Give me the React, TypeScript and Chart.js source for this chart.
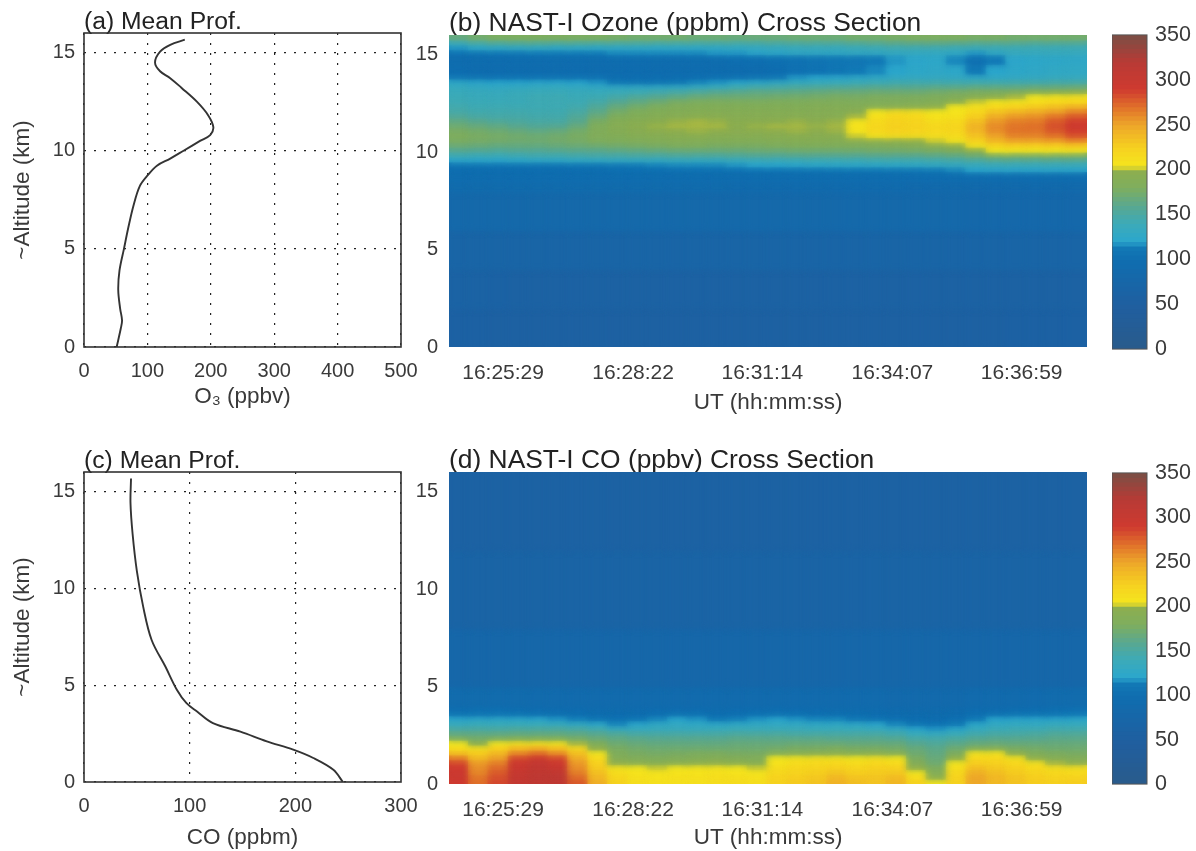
import React, { useEffect, useRef } from "react";
import { Chart, registerables } from "chart.js";

Chart.register(...registerables);

const FONT = "'Liberation Sans', Arial, sans-serif";
const INK = "#3a3a3a";

// (a) mean ozone profile
const o3ProfileValues = [51.5, 58, 60, 57, 54, 56, 63, 70, 78, 88, 101, 115, 136, 157, 183, 199, 204, 196, 178, 154, 136, 120, 112, 120, 136, 159];
const o3ProfileAlts = [0, 0.94, 1.36, 1.96, 2.9, 3.9, 5, 6.1, 7.2, 8.2, 8.77, 9.24, 9.6, 10, 10.5, 10.8, 11.2, 11.8, 12.5, 13.2, 13.7, 14.05, 14.5, 15.05, 15.4, 15.66];

// (c) mean CO profile
const coProfileValues = [245, 236, 217, 198, 173, 148, 122, 107, 97, 88, 77, 64, 56, 50, 46, 44, 44.5];
const coProfileAlts = [0, 0.63, 1.24, 1.67, 2.1, 2.6, 3.04, 3.64, 4.07, 4.75, 5.96, 7.33, 9.05, 10.9, 12.8, 14.4, 15.66];

// Cross-section time axis: seconds after 16:00:00
const columnTimes = [1470, 1497, 1523, 1550, 1576, 1603, 1629, 1656, 1682, 1709, 1735, 1762, 1788, 1815, 1841, 1868, 1894, 1921, 1947, 1974, 2000, 2027, 2053, 2080, 2106, 2133, 2159, 2186, 2212, 2239, 2265, 2292];
const timeTicks = [1529, 1702, 1874, 2047, 2219];
const timeTickLabels = ["16:25:29", "16:28:22", "16:31:14", "16:34:07", "16:36:59"];

// (b) Ozone cross-section. Row edges in km, rows bottom to top.
const ozoneEdges = [0, 2, 4, 6, 8, 8.5, 9, 9.25, 9.5, 9.75, 10, 10.25, 10.5, 10.75, 11, 11.25, 11.5, 11.75, 12, 12.25, 12.5, 12.75, 13, 13.25, 13.5, 13.75, 14, 14.5, 15, 15.25, 15.5, 15.75, 16];
const ozoneRows = [
  [58, 58, 57, 57, 56, 56, 56, 56, 55, 55, 55, 55, 55, 55, 55, 56, 56, 56, 56, 56, 56, 56, 56, 57, 57, 57, 57, 57, 58, 58, 58, 58],
  [62, 62, 61, 60, 60, 60, 60, 60, 60, 60, 60, 60, 60, 60, 60, 60, 60, 60, 60, 60, 60, 60, 60, 60, 60, 60, 60, 60, 60, 60, 60, 60],
  [70, 70, 70, 70, 70, 70, 70, 70, 70, 70, 70, 70, 70, 70, 70, 70, 70, 70, 70, 70, 70, 70, 70, 70, 70, 70, 70, 70, 70, 70, 70, 70],
  [82, 82, 82, 82, 82, 82, 82, 82, 82, 82, 82, 82, 82, 82, 82, 82, 82, 82, 82, 82, 82, 82, 82, 82, 82, 82, 80, 80, 80, 80, 80, 80],
  [92, 92, 92, 92, 92, 92, 92, 92, 92, 92, 92, 92, 92, 92, 90, 90, 90, 90, 90, 90, 90, 90, 90, 88, 88, 88, 88, 88, 88, 88, 88, 88],
  [98, 98, 98, 98, 98, 98, 98, 98, 98, 98, 98, 98, 98, 98, 98, 98, 98, 98, 98, 98, 98, 98, 98, 96, 96, 96, 98, 98, 98, 98, 98, 98],
  [100, 100, 100, 100, 100, 100, 100, 100, 102, 102, 102, 104, 104, 104, 104, 106, 106, 108, 108, 110, 110, 110, 112, 112, 114, 116, 120, 122, 122, 122, 122, 122],
  [108, 108, 108, 108, 108, 108, 110, 110, 112, 114, 115, 116, 116, 116, 118, 120, 120, 122, 124, 125, 125, 126, 126, 128, 130, 132, 134, 136, 136, 136, 136, 136],
  [122, 122, 122, 124, 126, 126, 128, 128, 130, 130, 130, 132, 132, 132, 134, 136, 136, 138, 140, 140, 140, 142, 142, 142, 144, 146, 150, 155, 155, 155, 155, 155],
  [142, 140, 140, 142, 144, 144, 146, 148, 148, 150, 150, 152, 152, 152, 154, 156, 156, 158, 158, 158, 158, 160, 160, 160, 162, 165, 172, 178, 178, 178, 178, 178],
  [158, 156, 154, 156, 156, 158, 160, 160, 162, 164, 166, 168, 168, 168, 168, 170, 170, 172, 172, 172, 172, 174, 174, 175, 178, 182, 194, 204, 206, 206, 206, 208],
  [170, 168, 166, 166, 166, 168, 170, 172, 174, 176, 178, 180, 180, 178, 178, 178, 180, 182, 182, 182, 182, 184, 186, 188, 192, 198, 208, 218, 222, 222, 224, 228],
  [178, 176, 174, 172, 172, 174, 176, 180, 182, 184, 186, 188, 188, 186, 186, 186, 188, 190, 190, 190, 192, 194, 196, 198, 202, 208, 222, 240, 250, 250, 252, 260],
  [180, 178, 176, 174, 172, 174, 178, 184, 186, 190, 192, 194, 194, 192, 192, 192, 194, 194, 194, 194, 202, 208, 212, 212, 212, 214, 232, 250, 262, 262, 268, 280],
  [178, 175, 172, 168, 165, 168, 175, 182, 190, 194, 197, 198, 199, 198, 196, 197, 198, 199, 198, 199, 206, 216, 222, 220, 216, 218, 240, 258, 268, 268, 278, 288],
  [172, 168, 165, 160, 156, 158, 168, 182, 192, 196, 199, 200, 200, 200, 198, 199, 200, 200, 199, 200, 208, 218, 224, 222, 218, 220, 242, 260, 268, 270, 282, 292],
  [165, 160, 155, 152, 150, 150, 160, 178, 190, 194, 197, 199, 200, 199, 197, 197, 198, 199, 198, 199, 205, 216, 222, 220, 214, 216, 236, 255, 264, 266, 278, 288],
  [155, 150, 148, 148, 146, 146, 155, 170, 182, 186, 190, 192, 194, 194, 192, 192, 192, 192, 192, 192, 200, 210, 218, 216, 208, 210, 226, 245, 255, 258, 268, 278],
  [148, 145, 145, 145, 144, 144, 150, 162, 175, 182, 186, 188, 190, 190, 190, 190, 190, 190, 190, 190, 194, 205, 214, 212, 204, 206, 218, 232, 240, 245, 252, 262],
  [145, 142, 142, 142, 142, 142, 145, 155, 168, 175, 180, 184, 186, 186, 186, 186, 186, 186, 188, 188, 188, 186, 188, 190, 196, 204, 210, 216, 222, 228, 235, 242],
  [142, 140, 140, 140, 142, 142, 142, 148, 158, 165, 172, 178, 180, 180, 180, 180, 182, 182, 184, 184, 184, 184, 184, 185, 188, 195, 202, 206, 208, 212, 216, 218],
  [140, 138, 138, 140, 142, 142, 140, 142, 148, 155, 160, 165, 170, 172, 172, 172, 174, 175, 176, 178, 178, 180, 180, 180, 182, 185, 190, 195, 200, 205, 208, 210],
  [138, 136, 136, 138, 140, 140, 138, 138, 140, 142, 146, 150, 155, 160, 162, 165, 165, 166, 168, 170, 170, 172, 172, 172, 175, 178, 180, 182, 185, 190, 195, 198],
  [134, 132, 130, 132, 134, 134, 132, 130, 130, 130, 130, 132, 136, 140, 144, 148, 150, 152, 154, 156, 158, 160, 160, 160, 162, 162, 165, 165, 165, 168, 168, 170],
  [126, 122, 120, 120, 122, 122, 120, 118, 114, 112, 112, 114, 116, 118, 122, 126, 130, 134, 136, 138, 140, 142, 144, 145, 145, 145, 145, 145, 146, 146, 148, 148],
  [112, 108, 106, 106, 106, 106, 105, 104, 100, 100, 100, 100, 100, 102, 104, 108, 112, 118, 120, 122, 126, 128, 130, 132, 132, 130, 128, 128, 130, 132, 134, 134],
  [100, 98, 98, 98, 98, 98, 96, 96, 96, 96, 96, 96, 96, 96, 98, 98, 100, 104, 106, 110, 114, 116, 120, 124, 126, 124, 114, 120, 124, 126, 128, 128],
  [98, 98, 98, 98, 98, 98, 98, 98, 98, 98, 98, 98, 98, 98, 100, 100, 102, 105, 108, 110, 112, 114, 118, 122, 124, 116, 104, 114, 122, 124, 125, 126],
  [105, 108, 110, 112, 114, 114, 114, 114, 116, 116, 116, 116, 116, 118, 118, 122, 125, 128, 128, 128, 130, 130, 132, 132, 130, 128, 118, 128, 135, 135, 135, 135],
  [118, 124, 126, 128, 128, 126, 126, 125, 126, 126, 125, 125, 125, 126, 128, 130, 132, 135, 135, 135, 138, 140, 142, 142, 142, 140, 140, 140, 140, 140, 140, 140],
  [135, 145, 150, 152, 152, 150, 150, 148, 148, 148, 146, 146, 146, 146, 145, 146, 148, 150, 150, 150, 152, 155, 158, 160, 160, 158, 155, 155, 155, 152, 152, 152],
  [168, 175, 180, 182, 182, 182, 180, 180, 178, 175, 175, 175, 172, 172, 170, 170, 170, 172, 172, 172, 175, 175, 178, 180, 180, 180, 178, 178, 175, 175, 175, 175],
];

// (d) CO cross-section
const coEdges = [0, 0.25, 0.5, 0.75, 1, 1.25, 1.5, 1.75, 2, 2.25, 2.5, 2.75, 3, 3.25, 3.5, 3.75, 4, 5, 8, 12, 16];
const coRows = [
  [290, 270, 285, 305, 310, 310, 278, 245, 222, 212, 210, 210, 210, 212, 214, 212, 222, 228, 232, 242, 236, 232, 240, 222, 206, 222, 248, 238, 232, 226, 224, 226],
  [295, 268, 282, 305, 312, 312, 272, 240, 218, 210, 208, 210, 210, 212, 212, 210, 222, 226, 230, 240, 232, 232, 238, 215, 195, 222, 250, 240, 232, 226, 222, 222],
  [295, 262, 278, 302, 310, 308, 265, 235, 214, 208, 206, 208, 208, 210, 208, 206, 218, 222, 226, 232, 226, 228, 230, 205, 188, 218, 244, 236, 228, 222, 218, 216],
  [290, 258, 272, 298, 308, 300, 258, 228, 208, 204, 202, 204, 206, 206, 204, 202, 214, 218, 220, 224, 220, 224, 224, 198, 180, 212, 236, 230, 224, 216, 212, 212],
  [285, 255, 265, 295, 305, 295, 255, 225, 198, 192, 190, 192, 196, 198, 194, 190, 208, 214, 216, 218, 214, 218, 215, 188, 172, 205, 226, 224, 218, 210, 200, 198],
  [265, 238, 252, 285, 295, 285, 245, 215, 188, 184, 182, 184, 186, 188, 186, 184, 204, 208, 210, 208, 206, 210, 205, 178, 168, 198, 218, 218, 210, 196, 188, 185],
  [235, 228, 240, 262, 272, 260, 235, 205, 182, 178, 176, 178, 180, 180, 178, 178, 185, 188, 192, 192, 190, 192, 188, 172, 165, 180, 208, 208, 198, 185, 180, 178],
  [214, 212, 225, 238, 245, 235, 218, 196, 178, 174, 172, 172, 172, 172, 172, 172, 175, 178, 178, 180, 178, 178, 175, 168, 162, 172, 182, 184, 178, 175, 172, 172],
  [204, 196, 206, 212, 212, 208, 200, 186, 172, 168, 166, 166, 166, 166, 168, 168, 168, 170, 170, 170, 168, 168, 168, 160, 155, 162, 168, 170, 168, 168, 168, 168],
  [178, 175, 178, 182, 182, 180, 176, 170, 165, 162, 160, 160, 160, 160, 162, 162, 162, 162, 162, 160, 160, 160, 158, 150, 148, 152, 158, 160, 160, 160, 162, 162],
  [165, 165, 165, 166, 166, 166, 164, 160, 155, 150, 150, 150, 150, 150, 152, 152, 152, 150, 150, 150, 150, 150, 146, 138, 135, 140, 146, 150, 150, 152, 155, 155],
  [150, 150, 150, 152, 152, 152, 150, 145, 135, 135, 136, 136, 136, 138, 140, 140, 140, 140, 138, 138, 138, 136, 132, 122, 118, 124, 134, 140, 142, 142, 145, 145],
  [135, 138, 138, 138, 138, 135, 130, 125, 116, 122, 128, 130, 128, 126, 128, 130, 130, 130, 128, 128, 126, 122, 116, 110, 106, 112, 124, 130, 132, 132, 135, 135],
  [122, 125, 125, 124, 122, 118, 115, 110, 106, 110, 116, 120, 118, 114, 115, 118, 120, 118, 116, 116, 112, 108, 104, 100, 98, 104, 114, 120, 122, 122, 122, 124],
  [110, 112, 112, 110, 106, 104, 102, 100, 100, 100, 104, 108, 106, 102, 104, 106, 108, 106, 104, 102, 102, 100, 98, 96, 95, 98, 104, 108, 110, 110, 112, 114],
  [100, 102, 102, 100, 98, 96, 96, 95, 95, 95, 96, 98, 96, 95, 96, 98, 100, 98, 96, 95, 95, 95, 94, 92, 92, 94, 96, 98, 100, 100, 102, 104],
  [92, 92, 92, 92, 90, 90, 90, 90, 90, 90, 90, 90, 90, 90, 90, 90, 90, 90, 90, 90, 90, 90, 88, 88, 88, 88, 90, 90, 90, 90, 92, 92],
  [78, 78, 78, 78, 78, 78, 78, 78, 78, 78, 78, 78, 78, 78, 78, 78, 78, 78, 78, 78, 78, 78, 78, 78, 78, 78, 78, 78, 78, 78, 78, 78],
  [65, 65, 65, 65, 65, 65, 65, 65, 65, 65, 65, 65, 65, 65, 65, 65, 65, 65, 65, 65, 65, 65, 65, 65, 65, 65, 65, 65, 65, 65, 65, 65],
  [60, 60, 60, 60, 60, 60, 60, 60, 60, 60, 60, 60, 60, 60, 60, 60, 60, 60, 60, 60, 60, 60, 60, 60, 60, 60, 60, 60, 60, 60, 60, 60],
];

// Colour-bar levels and colour stops
const barLevels = [0, 5, 10, 15, 20, 25, 30, 35, 40, 45, 50, 55, 60, 65, 70, 75, 80, 85, 90, 95, 100, 105, 110, 115, 120, 125, 130, 135, 140, 145, 150, 155, 160, 165, 170, 175, 180, 185, 190, 195, 200, 205, 210, 215, 220, 225, 230, 235, 240, 245, 250, 255, 260, 265, 270, 275, 280, 285, 290, 295, 300, 305, 310, 315, 320, 325, 330, 335, 340, 345];
const stopValues = [0, 50, 100, 114, 120, 140, 160, 180, 198, 201, 204, 225, 250, 270, 290, 320, 350];
const stopColors = ["#2a5b8b", "#1f5fa0", "#0f6eb0", "#1279b6", "#2ba6cc", "#3caab8", "#5aa88f", "#7fae5e", "#8cae50", "#b4bd3e", "#f5e61e", "#f6d020", "#eda62a", "#e0702a", "#cf3a30", "#b83a35", "#7a4f45"];

function hexToRgb(h: string) {
  return [1, 3, 5].map((i) => parseInt(h.slice(i, i + 2), 16));
}
function colorFor(v: number) {
  let i = 0;
  while (i < stopValues.length - 2 && v > stopValues[i + 1]) i++;
  const t = Math.max(0, Math.min(1, (v - stopValues[i]) / (stopValues[i + 1] - stopValues[i])));
  const a = hexToRgb(stopColors[i]);
  const b = hexToRgb(stopColors[i + 1]);
  return `rgb(${a.map((c, k) => Math.round(c + (b[k] - c) * t)).join(",")})`;
}

const framePlugin = {
  id: "frame",
  afterDraw(chart: any, _a: any, opts: any) {
    if (!opts || !opts.color) return;
    const { ctx, chartArea: c } = chart;
    ctx.save();
    ctx.strokeStyle = opts.color;
    ctx.lineWidth = opts.width || 1.5;
    ctx.strokeRect(c.left, c.top, c.right - c.left, c.bottom - c.top);
    ctx.restore();
  },
};

// Softens the top copy of the cross-section cells, like the scanned original.
const softenPlugin = {
  id: "soften",
  beforeDatasetDraw(chart: any, args: any) {
    if (args.index === 0) chart.ctx.filter = "blur(3px)";
  },
  afterDatasetDraw(chart: any) {
    chart.ctx.filter = "none";
  },
};

type Box = { left: number; top: number; width: number; height: number };
const titleOpts = (text: string, h: number, size: number) => ({
  display: true,
  text,
  align: "start" as const,
  fullSize: false,
  color: "#222",
  font: { family: FONT, size, weight: "normal" as const, lineHeight: 1 },
  padding: { top: h - size + 2, bottom: -2 },
});
const tickFont = { family: FONT, size: 20 };
const timeFont = { family: FONT, size: 21 };
const labelFont = { family: FONT, size: 22.5 };
const altitudeAxis = (w: number, padding: number, showLabel: boolean, grid: boolean) => ({
  type: "linear" as const,
  min: 0,
  max: 16,
  afterBuildTicks: (s: any) => {
    s.ticks = [0, 5, 10, 15].map((value) => ({ value }));
  },
  afterFit: (s: any) => {
    s.width = w;
  },
  ticks: { color: INK, font: tickFont, padding },
  title: showLabel
    ? { display: true, text: "~Altitude (km)", color: INK, font: labelFont, padding: { top: 9, bottom: 0 } }
    : { display: false },
  border: { display: false, dash: [2, 8] },
  grid: grid ? { display: true, drawTicks: false, color: "#222", lineWidth: 1.2 } : { display: false, drawTicks: false },
});

function makeProfile(canvas: HTMLCanvasElement, cfg: any) {
  return new Chart(canvas, {
    type: "line",
    data: {
      datasets: [
        {
          data: cfg.values.map((x: number, i: number) => ({ x, y: cfg.alts[i] })),
          borderColor: "#333",
          borderWidth: 1.9,
          pointRadius: 0,
          tension: 0.35,
          fill: false,
        },
      ],
    },
    options: {
      responsive: false,
      animation: false,
      layout: { padding: { right: cfg.right } },
      plugins: { legend: { display: false }, tooltip: { enabled: false }, title: titleOpts(cfg.title, cfg.titleH, 24.7), frame: { color: "#333", width: 1.6 } },
      scales: {
        x: {
          type: "linear",
          min: 0,
          max: cfg.max,
          afterBuildTicks: (s: any) => {
            s.ticks = cfg.ticks.map((value: number) => ({ value }));
          },
          afterFit: (s: any) => {
            s.height = cfg.bottom;
          },
          ticks: { color: INK, font: tickFont, padding: 12, maxRotation: 0, autoSkip: false },
          title: { display: true, text: cfg.label, color: INK, font: labelFont, padding: { top: 0, bottom: cfg.labelPad } },
          border: { display: false, dash: [2, 8] },
          grid: { drawTicks: false, color: "#222", lineWidth: 1.2 },
        },
        y: altitudeAxis(84, 9, true, true),
      },
    } as any,
    plugins: [framePlugin],
  } as any);
}

function makeSection(canvas: HTMLCanvasElement, cfg: any) {
  const cells: any[] = [];
  cfg.rows.forEach((row: number[], r: number) => {
    row.forEach((v: number, c: number) => {
      cells.push({ x: columnTimes[c], y: [cfg.edges[r], cfg.edges[r + 1]], v });
    });
  });
  const cellStyle = {
    data: cells,
    backgroundColor: (ctx: any) => (ctx.raw ? colorFor(ctx.raw.v) : "#000"),
    borderWidth: 0,
    barThickness: 21,
    inflateAmount: 0.6,
    grouped: false,
  };
  return new Chart(canvas, {
    type: "bar",
    data: { datasets: [{ ...cellStyle }, { ...cellStyle }] },
    options: {
      responsive: false,
      animation: false,
      layout: { padding: { right: 18 } },
      plugins: { legend: { display: false }, tooltip: { enabled: false }, title: titleOpts(cfg.title, cfg.titleH, 26.4) },
      scales: {
        x: {
          type: "linear",
          offset: false,
          min: 1457,
          max: 2306,
          afterBuildTicks: (s: any) => {
            s.ticks = timeTicks.map((value) => ({ value }));
          },
          afterFit: (s: any) => {
            s.height = cfg.bottom;
          },
          ticks: {
            color: INK,
            font: timeFont,
            padding: 14,
            maxRotation: 0,
            autoSkip: false,
            callback: (v: number) => timeTickLabels[timeTicks.indexOf(v)] ?? "",
          },
          title: { display: true, text: "UT (hh:mm:ss)", color: INK, font: labelFont, padding: { top: 0, bottom: cfg.labelPad } },
          border: { display: false },
          grid: { display: false, drawTicks: false },
        },
        y: altitudeAxis(44, 11, false, false),
      },
    } as any,
    plugins: [softenPlugin],
  } as any);
}

function makeColorBar(canvas: HTMLCanvasElement) {
  const cells = barLevels.map((lo) => ({ x: 0, y: [lo, lo + 5], v: lo + 2.5 }));
  return new Chart(canvas, {
    type: "bar",
    data: {
      datasets: [
        {
          data: cells,
          backgroundColor: (ctx: any) => (ctx.raw ? colorFor(ctx.raw.v) : "#000"),
          borderWidth: 0,
          barThickness: 40,
          inflateAmount: 0.6,
          grouped: false,
        },
      ],
    },
    options: {
      responsive: false,
      animation: false,
      plugins: { legend: { display: false }, tooltip: { enabled: false }, frame: { color: "#555", width: 1 } },
      scales: {
        x: { type: "linear", display: false, offset: false, min: -1, max: 1 },
        y: {
          type: "linear",
          position: "right",
          min: 0,
          max: 350,
          afterBuildTicks: (s: any) => {
            s.ticks = [0, 50, 100, 150, 200, 250, 300, 350].map((value) => ({ value }));
          },
          afterFit: (s: any) => {
            s.width = 49;
          },
          ticks: { color: INK, font: { family: FONT, size: 21.5 }, padding: 8 },
          border: { display: false },
          grid: { display: false, drawTicks: false },
        },
      },
    } as any,
    plugins: [framePlugin],
  } as any);
}

function Panel({ box, build }: { box: Box; build: (c: HTMLCanvasElement) => Chart }) {
  const ref = useRef<HTMLCanvasElement>(null);
  useEffect(() => {
    const chart = build(ref.current!);
    return () => chart.destroy();
  }, []);
  return (
    <canvas
      ref={ref}
      width={box.width}
      height={box.height}
      style={{ position: "absolute", left: box.left, top: box.top, width: box.width, height: box.height }}
    />
  );
}

export default function App() {
  return (
    <div style={{ position: "absolute", left: 0, top: 0, width: 1196, height: 851, background: "#fff", overflow: "hidden" }}>
      <Panel
        box={{ left: 0, top: 0, width: 440, height: 420 }}
        build={(c) => makeProfile(c, { values: o3ProfileValues, alts: o3ProfileAlts, max: 500, ticks: [0, 100, 200, 300, 400, 500], title: "(a) Mean Prof.", titleH: 33, right: 39, bottom: 73, label: "O₃ (ppbv)", labelPad: 10 })}
      />
      <Panel
        box={{ left: 0, top: 440, width: 440, height: 411 }}
        build={(c) => makeProfile(c, { values: coProfileValues, alts: coProfileAlts, max: 300, ticks: [0, 100, 200, 300], title: "(c) Mean Prof.", titleH: 32, right: 39, bottom: 69, label: "CO (ppbm)", labelPad: 0 })}
      />
      <Panel
        box={{ left: 405, top: 0, width: 700, height: 430 }}
        build={(c) => makeSection(c, { rows: ozoneRows, edges: ozoneEdges, title: "(b) NAST-I Ozone (ppbm) Cross Section", titleH: 35, bottom: 83, labelPad: 14 })}
      />
      <Panel
        box={{ left: 405, top: 440, width: 700, height: 411 }}
        build={(c) => makeSection(c, { rows: coRows, edges: coEdges, title: "(d) NAST-I CO (ppbv) Cross Section", titleH: 32, bottom: 67, labelPad: 0 })}
      />
      <Panel box={{ left: 1112, top: 14, width: 84, height: 356 }} build={makeColorBar} />
      <Panel box={{ left: 1112, top: 452, width: 84, height: 353 }} build={makeColorBar} />
    </div>
  );
}
